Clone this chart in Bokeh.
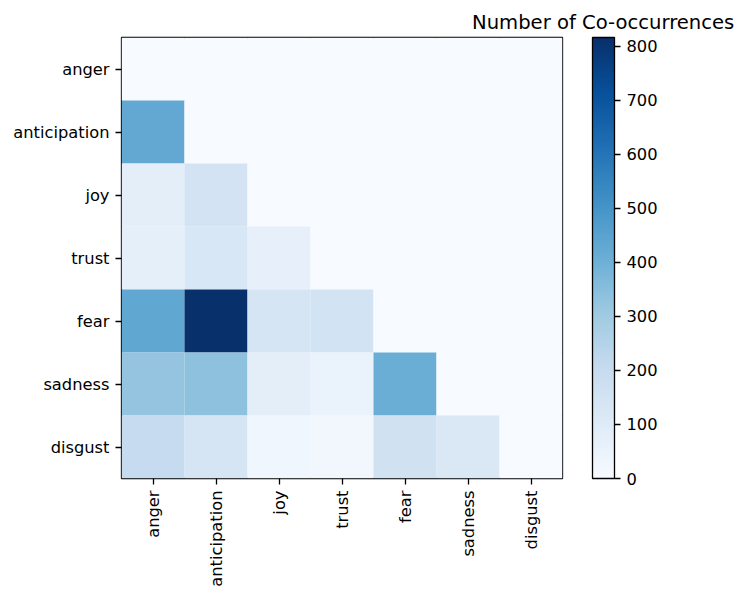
import math
from bokeh.plotting import figure
from bokeh.models import (ColumnDataSource, LinearColorMapper, ColorBar, FixedTicker,
                          Title, FactorRange)
from bokeh.palettes import Blues256
from bokeh.transform import transform
from bokeh.embed import file_html
from bokeh.resources import INLINE

emotions = ["anger", "anticipation", "joy", "trust", "fear", "sadness", "disgust"]

# co-occurrence counts, one list per row (row emotion vs column emotion)
row_anger = [0, 0, 0, 0, 0, 0, 0]
row_anticipation = [430, 0, 0, 0, 0, 0, 0]
row_joy = [82, 150, 0, 0, 0, 0, 0]
row_trust = [75, 130, 70, 0, 0, 0, 0]
row_fear = [435, 816, 140, 155, 0, 0, 0]
row_sadness = [326, 340, 82, 52, 408, 0, 0]
row_disgust = [204, 142, 30, 25, 165, 118, 0]

colorbar_ticks = [0, 100, 200, 300, 400, 500, 600, 700, 800]
colorbar_title = "Number of Co-occurrences"

rows = [row_anger, row_anticipation, row_joy, row_trust, row_fear, row_sadness, row_disgust]
xs, ys, vals = [], [], []
for r_name, r_vals in zip(emotions, rows):
    for c_name, v in zip(emotions, r_vals):
        xs.append(c_name)
        ys.append(r_name)
        vals.append(v)
source = ColumnDataSource(dict(x=xs, y=ys, value=vals))

vmax = max(vals)
palette = list(Blues256)[::-1]
mapper = LinearColorMapper(palette=palette, low=0, high=vmax)

FONT = "DejaVu Sans"
TICK_SIZE = "16.3px"

p = figure(width=740, height=592,
           x_range=FactorRange(factors=emotions),
           y_range=FactorRange(factors=emotions[::-1]),
           output_backend="svg", toolbar_location=None,
           min_border_left=121, min_border_right=178, min_border_top=37,
           min_border_bottom=114)
p.background_fill_color = "#f7fbff"
p.border_fill_color = "white"
p.outline_line_color = "black"
p.outline_line_width = 1.3
p.grid.visible = False

p.rect(x="x", y="y", width=1, height=1, source=source,
       fill_color=transform("value", mapper), line_color=None)

for ax in (p.xaxis[0], p.yaxis[0]):
    ax.axis_line_color = None
    ax.major_tick_out = 6
    ax.major_tick_in = 0
    ax.major_tick_line_width = 1.3
    ax.major_tick_line_color = "black"
    ax.minor_tick_line_color = None
    ax.major_label_text_font = FONT
    ax.major_label_text_font_size = TICK_SIZE
    ax.major_label_text_color = "black"
    ax.major_label_standoff = 6
p.xaxis.major_label_orientation = math.pi / 2

cb = ColorBar(color_mapper=mapper, ticker=FixedTicker(ticks=colorbar_ticks),
              width=22, height=441, padding=0, margin=0, location=(471, 0),
              bar_line_color="black", bar_line_width=1.3,
              major_tick_line_color="black", major_tick_line_width=1.3,
              major_tick_out=6, major_tick_in=0, minor_tick_line_color=None,
              label_standoff=6,
              major_label_text_font=FONT, major_label_text_font_size=TICK_SIZE,
              major_label_text_color="black",
              background_fill_color=None, border_line_color=None)
p.add_layout(cb)

title = Title(text=colorbar_title, align="left", offset=350.5,
              text_font=FONT, text_font_size="19.6px", text_font_style="normal",
              text_color="black", standoff=8)
p.add_layout(title, "above")

open("out.html", "w").write(file_html(p, INLINE))
